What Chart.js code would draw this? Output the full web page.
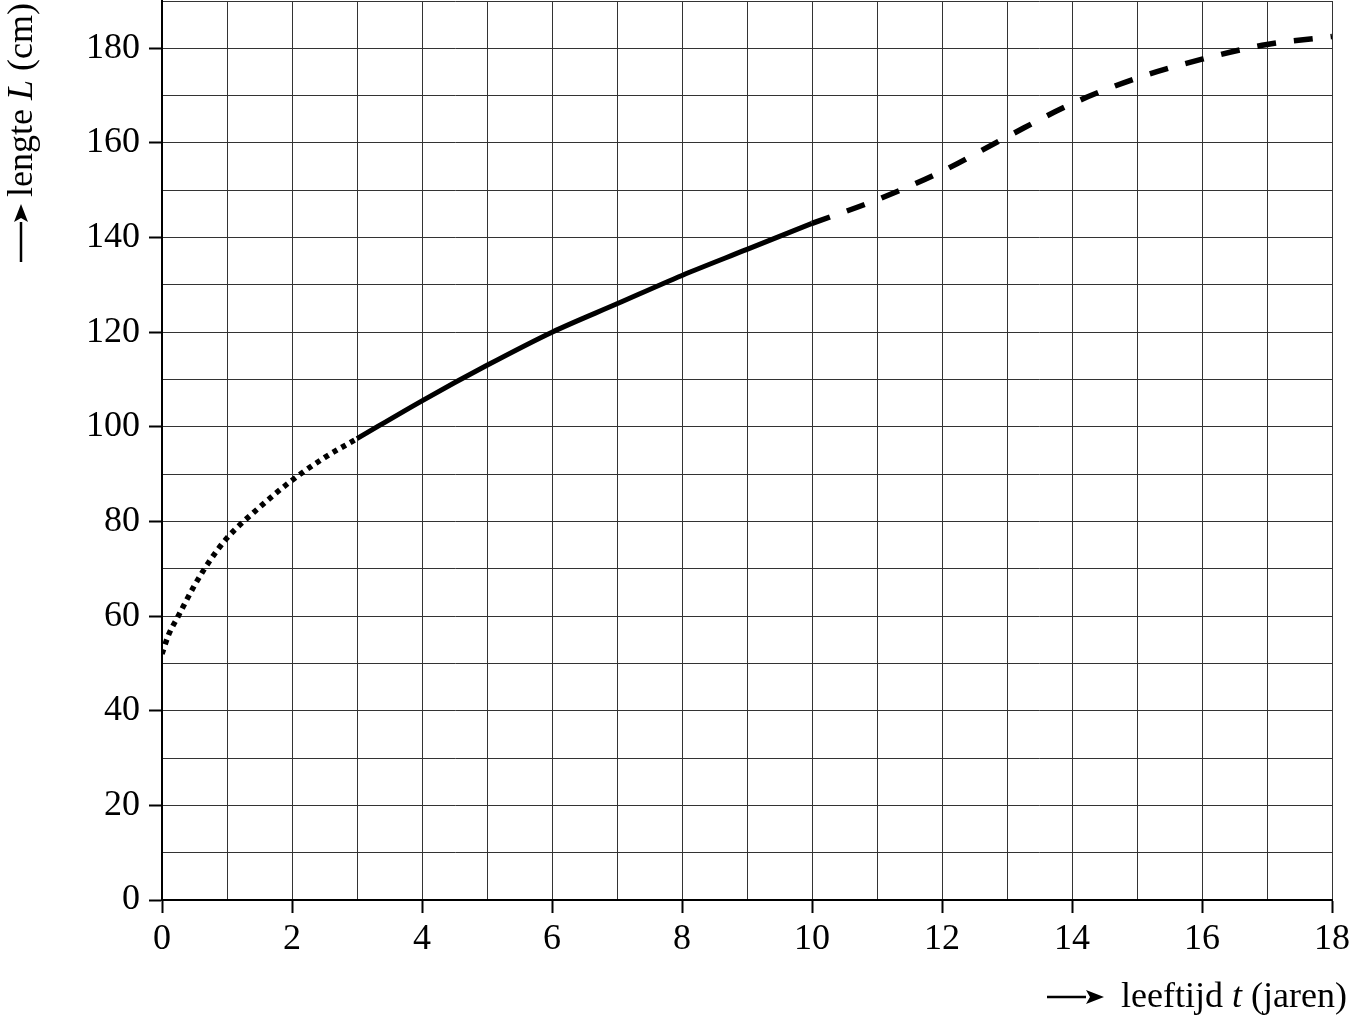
<!DOCTYPE html>
<html>
<head>
<meta charset="utf-8">
<script src="https://cdn.jsdelivr.net/npm/chart.js@4.4.1/dist/chart.umd.min.js"></script>
<style>
  body { margin: 0; background: #fff; }
  #wrap { width: 1351px; height: 1020px; }
</style>
</head>
<body>
<div id="wrap"><canvas id="lengthChart" width="1351" height="1020"></canvas></div>
<script>
// leeftijd t (jaren) en lengte L (cm), drie stukken van de groeicurve
const dotT = [0, 0.1, 0.25, 0.5, 0.75, 1, 1.5, 2, 2.5, 3];
const dotL = [52, 56, 60, 66.5, 72, 76.5, 83, 88.7, 93.5, 97.5];

const solidT = [3, 4, 5, 6, 7, 8, 9, 10];
const solidL = [97.5, 105.5, 113, 120, 126, 132, 137.5, 143];

const dashT = [10, 11, 12, 13, 14, 15, 16, 17, 18];
const dashL = [143, 148, 154, 161.3, 168.3, 173.7, 177.7, 180.8, 182.5];

const xTickLabels = [0, 2, 4, 6, 8, 10, 12, 14, 16, 18];
const yTickLabels = [0, 20, 40, 60, 80, 100, 120, 140, 160, 180];

const serif = "'Liberation Serif', 'Times New Roman', serif";

function toPoints(ts, ls) {
    return ts.map((t, i) => ({ x: t, y: ls[i] }));
}

function arrow(ctx, x1, y1, x2, y2) {
    const ang = Math.atan2(y2 - y1, x2 - x1);
    const head = 18, half = 7;
    ctx.beginPath();
    ctx.moveTo(x1, y1);
    ctx.lineTo(x2 - Math.cos(ang) * head, y2 - Math.sin(ang) * head);
    ctx.lineWidth = 2.5;
    ctx.stroke();
    ctx.beginPath();
    ctx.moveTo(x2, y2);
    ctx.lineTo(x2 - Math.cos(ang) * head - Math.sin(ang) * half, y2 - Math.sin(ang) * head + Math.cos(ang) * half);
    ctx.lineTo(x2 - Math.cos(ang) * (head - 4), y2 - Math.sin(ang) * (head - 4));
    ctx.lineTo(x2 - Math.cos(ang) * head + Math.sin(ang) * half, y2 - Math.sin(ang) * head - Math.cos(ang) * half);
    ctx.closePath();
    ctx.fill();
}

// draws "pieces" (text, italic) one after the other from (0,0)
function drawPieces(ctx, pieces) {
    let x = 0;
    pieces.forEach(p => {
        ctx.font = (p[1] ? 'italic ' : '') + '36px ' + serif;
        ctx.fillText(p[0], x, 0);
        x += ctx.measureText(p[0]).width;
    });
    return x;
}

function piecesWidth(ctx, pieces) {
    let w = 0;
    pieces.forEach(p => {
        ctx.font = (p[1] ? 'italic ' : '') + '36px ' + serif;
        w += ctx.measureText(p[0]).width;
    });
    return w;
}

const axisTitles = {
    id: 'axisTitles',
    afterDraw(chart) {
        const ctx = chart.ctx;
        ctx.save();
        ctx.fillStyle = '#000';
        ctx.strokeStyle = '#000';
        ctx.textBaseline = 'alphabetic';
        ctx.textAlign = 'left';

        // x-as titel, rechts uitgelijnd
        const xPieces = [['leeftijd ', false], ['t', true], [' (jaren)', false]];
        const xw = piecesWidth(ctx, xPieces);
        ctx.save();
        ctx.translate(1347 - xw, 1007);
        drawPieces(ctx, xPieces);
        ctx.restore();
        arrow(ctx, 1047, 997, 1104, 997);

        // y-as titel, gedraaid
        const yPieces = [['lengte ', false], ['L', true], [' (cm)', false]];
        ctx.save();
        ctx.translate(32, 197);
        ctx.rotate(-Math.PI / 2);
        drawPieces(ctx, yPieces);
        ctx.restore();
        arrow(ctx, 21, 262, 21, 204);

        ctx.restore();
    }
};

const lineBase = {
    borderColor: '#000',
    backgroundColor: '#000',
    pointRadius: 0,
    fill: false,
    cubicInterpolationMode: 'monotone',
    borderCapStyle: 'butt'
};

const ctx = document.getElementById('lengthChart').getContext('2d');
const chart = new Chart(ctx, {
    type: 'line',
    data: {
        datasets: [
            Object.assign({ label: 'dotted', data: toPoints(dotT, dotL), borderWidth: 5.5, borderDash: [5, 5] }, lineBase),
            Object.assign({ label: 'solid', data: toPoints(solidT, solidL), borderWidth: 5 }, lineBase),
            Object.assign({ label: 'dashed', data: toPoints(dashT, dashL), borderWidth: 5.5, borderDash: [19, 18] }, lineBase)
        ]
    },
    options: {
        responsive: false,
        animation: false,
        layout: { padding: { top: 1, right: 19, left: 0, bottom: 0 } },
        plugins: {
            legend: { display: false },
            tooltip: { enabled: false }
        },
        scales: {
            x: {
                type: 'linear',
                min: 0,
                max: 18,
                afterFit: s => { s.height = 120; s.paddingLeft = 0; s.paddingRight = 0; },
                ticks: {
                    stepSize: 1,
                    autoSkip: false,
                    maxRotation: 0,
                    padding: 5,
                    color: '#000',
                    font: { family: serif, size: 36 },
                    callback: v => xTickLabels.includes(v) ? String(v) : ''
                },
                grid: {
                    color: '#333',
                    lineWidth: 1,
                    tickLength: 13,
                    tickWidth: 2,
                    tickColor: c => (c.tick && xTickLabels.includes(c.tick.value)) ? '#000' : 'rgba(0,0,0,0)'
                },
                border: { display: true, color: '#000', width: 2 }
            },
            y: {
                min: 0,
                max: 190,
                afterFit: s => { s.width = 162; s.paddingTop = 0; s.paddingBottom = 0; },
                ticks: {
                    stepSize: 10,
                    autoSkip: false,
                    padding: 9,
                    color: '#000',
                    font: { family: serif, size: 36 },
                    callback: v => yTickLabels.includes(v) ? String(v) : ''
                },
                grid: {
                    color: '#333',
                    lineWidth: 1,
                    tickLength: 13,
                    tickWidth: 2,
                    tickColor: c => (c.tick && yTickLabels.includes(c.tick.value)) ? '#000' : 'rgba(0,0,0,0)'
                },
                border: { display: true, color: '#000', width: 2 }
            }
        }
    },
    plugins: [axisTitles]
});
</script>
</body>
</html>
